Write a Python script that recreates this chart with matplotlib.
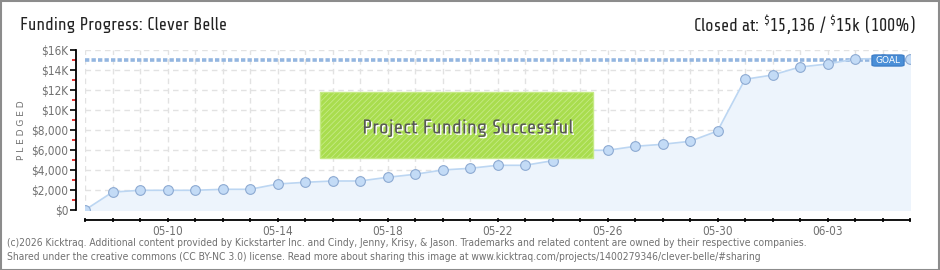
import matplotlib
matplotlib.use("Agg")
import matplotlib.pyplot as plt
import matplotlib.dates as mdates
from matplotlib import ticker
from matplotlib.patches import Rectangle, FancyBboxPatch
import matplotlib.patheffects as pe
import pandas as pd

# data
dates = pd.date_range("2015-05-07", "2015-06-06", freq="D")
pledged = [0, 1790, 1970, 1970, 1970, 2070, 2070, 2600, 2770, 2900,
           2900, 3270, 3570, 4000, 4170, 4470, 4470, 4930, 5970, 5970,
           6370, 6570, 6870, 7900, 13070, 13500, 14300, 14600, 15100, 15150,
           15136]
goal = 15000
title = "Funding Progress: Clever Belle"
closed_text = r"Closed at: $^{\$}$15,136 / $^{\$}$15k (100%)"
footer1 = ("(c)2026 Kicktraq. Additional content provided by Kickstarter Inc. and Cindy, Jenny, Krisy, & Jason. "
           "Trademarks and related content are owned by their respective companies.")
footer2 = ("Shared under the creative commons (CC BY-NC 3.0) license. Read more about sharing this image at "
           "www.kicktraq.com/projects/1400279346/clever-belle/#sharing")

techno = ["Share Tech", "Aldrich", "DejaVu Sans"]
small = dict(family="DejaVu Sans", stretch="condensed")
W, H = 940, 270
plt.rcParams["hatch.color"] = "#9fd145"
plt.rcParams["hatch.linewidth"] = 0.6
plt.rcParams["mathtext.fontset"] = "custom"
plt.rcParams["mathtext.rm"] = "Share Tech"
fig = plt.figure(figsize=(W / 100, H / 100), dpi=100)
fig.patch.set_facecolor("white")

# outer frame
fig.add_artist(Rectangle((0.5 / W, 0.5 / H), 1 - 1.5 / W, 1 - 1.5 / H, transform=fig.transFigure,
                         fill=False, edgecolor="#8c8c8c", linewidth=1.5))

ax = fig.add_axes([85 / W, 60 / H, 825 / W, 160 / H])
ax.set_facecolor("none")

ax.fill_between(dates, pledged, 0, color="#edf4fc", zorder=1)
ax.plot(dates, pledged, color="#bcd6f2", linewidth=1.2, zorder=3)
ax.plot(dates, pledged, "o", markersize=7, markerfacecolor="#c3dbf6",
        markeredgecolor="#8daad2", markeredgewidth=0.8, zorder=4)
ax.axhline(goal, color="#94b6e0", linewidth=2.6, linestyle=(0, (1.2, 0.6)), zorder=2)

ax.set_xlim(dates[0], dates[-1])
ax.set_ylim(0, 16000)

ax.set_axisbelow(True)
ax.xaxis.set_major_locator(mdates.DayLocator(bymonthday=[10, 14, 18, 22, 26, 30, 3]))
ax.xaxis.set_minor_locator(mdates.DayLocator())
ax.xaxis.set_major_formatter(mdates.DateFormatter("%m-%d"))
ax.yaxis.set_major_locator(ticker.MultipleLocator(2000))
ax.yaxis.set_minor_locator(ticker.MultipleLocator(1000))


def money(v, pos):
    if v >= 10000:
        return "$%dK" % (v / 1000)
    return "${:,.0f}".format(v)


ax.yaxis.set_major_formatter(ticker.FuncFormatter(money))
ax.grid(True, which="major", axis="y", color="#e2e2e2", linestyle=(0, (4, 3)), linewidth=1)
ax.grid(True, which="both", axis="x", color="#e2e2e2", linestyle=(0, (4, 3)), linewidth=1)

for s in ["top", "right"]:
    ax.spines[s].set_visible(False)
ax.spines["left"].set_position(("outward", 6.5))
ax.spines["bottom"].set_position(("outward", 7.2))
ax.spines["left"].set_linewidth(1.3)
ax.spines["bottom"].set_linewidth(1.3)

ax.tick_params(axis="y", which="major", length=4, width=1.2, color="black",
               labelsize=8.5, labelcolor="#707070", pad=1.5)
ax.tick_params(axis="y", which="minor", length=3, width=1.2, color="#e01010")
ax.tick_params(axis="x", which="both", length=3.5, width=1.2, color="black",
               labelsize=8.5, labelcolor="#707070", pad=1.5, direction="inout")
for lab in ax.get_xticklabels() + ax.get_yticklabels():
    lab.set_fontstretch("condensed")

ax.set_ylabel("P L E D G E D", fontsize=6.5, color="#707070", labelpad=4)

# success banner
ax.add_patch(Rectangle((320 / W, 112 / H), 273 / W, 66 / H, transform=fig.transFigure,
                       facecolor="#a9dd4e", edgecolor="#c5ea85", linewidth=1, zorder=6,
                       hatch="//////"))
fig.text(468 / W, 142 / H, "Project Funding Successful", ha="center", va="center",
         fontsize=14.5, color="#585858", family=techno, zorder=7,
         path_effects=[pe.withSimplePatchShadow(offset=(1, -1), shadow_rgbFace="white", alpha=1)])

# goal tag
ax.add_patch(FancyBboxPatch((872 / W, 204 / H), 32 / W, 11 / H, transform=fig.transFigure,
                            boxstyle="round,pad=0.0,rounding_size=0.004", facecolor="#4a8fd8",
                            edgecolor="#3f7fc8", zorder=5))
fig.text(888 / W, 209.5 / H, "GOAL", ha="center", va="center", fontsize=6.5,
         color="white", zorder=6)

# header / footer
fig.text(20 / W, 245 / H, title, ha="left", va="center", fontsize=12.5, color="#222222", family=techno)
fig.text(916 / W, 245 / H, closed_text, ha="right", va="center", fontsize=12.5, color="#222222",
         family=techno)
fig.text(7 / W, 27 / H, footer1, ha="left", va="center", fontsize=7.4, color="#707070", **small)
fig.text(7 / W, 13 / H, footer2, ha="left", va="center", fontsize=7.4, color="#707070", **small)

fig.savefig("out.png", dpi=100)
